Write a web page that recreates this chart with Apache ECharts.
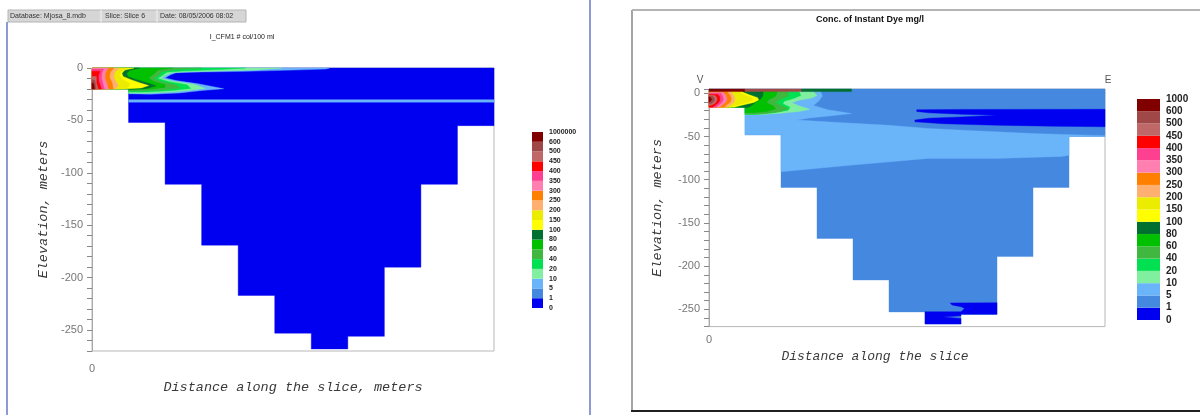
<!DOCTYPE html>
<html><head><meta charset="utf-8">
<script src="https://cdn.jsdelivr.net/npm/echarts@6/dist/echarts.min.js"></script>
<style>html,body{margin:0;padding:0;background:#fff}#c{width:1200px;height:415px}</style>
</head><body><div id="c"></div>
<script>
// ---- colour classes, bottom (lowest concentration) to top ----
const levelColors = ['#0000f0','#4488e0','#6ab4fa','#80f0a0','#00e050','#40b840','#00c000','#007030',
  '#ffff00','#ecec00','#ffb070','#ff8000','#ff80b0','#ff4090','#ff0000','#c06868','#a04848','#800000'];
const legendLabelsLeft = ['0','1','5','10','20','40','60','80','100','150','200','250','300','350','400','450','500','600','1000000'];
const legendLabelsRight = ['0','1','5','10','20','40','60','80','100','150','200','250','300','350','400','450','500','600','1000'];

// ---- bathymetry: bottom elevation (m) of the 11 slice columns ----
const bottomLeft  = [-20,-52,-111,-169,-217,-253,-268,-256,-190,-111,-55];
const bottomRight = [-16,-48,-109,-168,-216,-253,-267,-256,-189,-109,-50];

// ---- left panel: I_CFM1 contour regions [level, outline (column, elevation)] ----
const leftLayer  = [[1,-30.2],[11,-30.2],[11,-32.6],[1,-32.6]];
const leftL2  = [[0,0],[6.5,0],[6.4,-1],[5.5,-2],[4.2,-3.2],[3,-3.8],[2.3,-4.5],[2.15,-6.5],[2.0,-9.5],[2.3,-12],[2.9,-15],[3.6,-19.8],[3.0,-21.5],[2.4,-23.8],[1.6,-25],[1,-24.6],[1,-20],[0,-20]];
const leftL3  = [[0,0],[5.2,0],[4.5,-1.8],[3.5,-2.8],[2.6,-3.5],[2.2,-4.5],[2.05,-6.5],[1.9,-9.8],[2.2,-12.5],[2.8,-15.5],[3.1,-19.5],[2.7,-21.2],[2.2,-23],[1.5,-24.2],[1,-24],[1,-20],[0,-20]];
const leftL4  = [[0,0],[4.2,0],[3.5,-1.5],[2.5,-2.8],[2.05,-4],[1.95,-6.5],[1.8,-10],[2.1,-13],[2.6,-16],[2.7,-19.5],[2.2,-21.5],[1.5,-23],[1,-23],[1,-20],[0,-20]];
const leftL5  = [[0,0],[3,0],[2.3,-1.5],[1.9,-3.5],[1.85,-6.5],[1.7,-10],[1.9,-13],[2.3,-16],[2.4,-19],[1.9,-21],[1.3,-22],[1,-22],[1,-20],[0,-20]];
const leftL6  = [[0,0],[2.2,0],[1.8,-2],[1.7,-5.5],[1.55,-9.5],[1.7,-13],[2.0,-16],[2.0,-18.5],[1.6,-20],[1.0,-21],[1,-20],[0,-20]];
const leftL7  = [[0,0],[1.3,0],[1.05,-2],[0.95,-5],[0.98,-8],[1.2,-11],[1.5,-14],[1.75,-17],[1.5,-19.5],[1.0,-20.5],[1,-20],[0,-20]];
const leftL8  = [[0,0],[1.15,0],[0.9,-2],[0.82,-5],[0.85,-8],[1.05,-11],[1.3,-14],[1.55,-16.8],[1.35,-19],[1.0,-19.8],[0,-20]];
const leftL9  = [[0,0],[1.0,0],[0.8,-3],[0.75,-7],[0.85,-11],[1.05,-15],[1.0,-18],[0.9,-20],[0,-20]];
const leftL10 = [[0,0],[0.75,0],[0.62,-4],[0.6,-9],[0.68,-14],[0.72,-17],[0.62,-20],[0,-20]];
const leftL11 = [[0,0],[0.6,0],[0.5,-4],[0.48,-9],[0.55,-14],[0.58,-20],[0,-20]];
const leftL12 = [[0,0],[0.45,0],[0.37,-4],[0.35,-9],[0.4,-14],[0.45,-20],[0,-20]];
const leftL13 = [[0,-1],[0.32,-1],[0.27,-5],[0.26,-10],[0.3,-15],[0.34,-20],[0,-20]];
const leftL14 = [[0,-3],[0.22,-3],[0.18,-7],[0.18,-12],[0.22,-16],[0.26,-20],[0,-20]];
const leftL15 = [[0,-8],[0.12,-8],[0.12,-14],[0.17,-20],[0,-20]];
const leftL16 = [[0,-11],[0.08,-12],[0.11,-20],[0,-20]];
const leftL17 = [[0,-14],[0.05,-15],[0.07,-20],[0,-20]];

// ---- right panel: Instant Dye contour regions ----
const rightDarkUpper = [[5.77,-19],[7,-18.6],[11,-18.5],[11,-38.7],[9.5,-38],[8,-37],[6.5,-35.2],[5.72,-33],[5.72,-31],[6.1,-28.8],[7,-27.3],[8,-25.5],[7,-24.2],[6.1,-22.6],[5.77,-21]];
const rightDarkBottom = [[6.7,-242.6],[8,-242.4],[8,-255.8],[7,-255.8],[7,-257.5],[6.5,-259],[7,-260.5],[7,-267],[6,-267],[6,-252.8],[7,-252.8],[7.1,-249],[7.0,-247],[6.75,-245]];
const rightL2  = [[0,2],[3.1,2],[3.15,-3],[3.05,-9],[2.9,-14],[3.3,-19],[3.96,-23.5],[3.4,-26],[2.8,-28.5],[2.44,-31],[3.5,-33.5],[5,-37],[6.09,-40.7],[7.5,-43.5],[9,-46.5],[11,-49],[11,-50],[10,-50],[10,-71.6],[9.8,-73],[8,-75.3],[6.09,-75.3],[4,-83],[2,-90.7],[2,-48],[1,-48],[1,-16],[0,-16]];
const rightL3  = [[0,2],[2.9,2],[3.0,-2.5],[2.85,-5.5],[2.5,-8],[2.3,-11],[2.5,-14.5],[2.8,-18.5],[2.5,-21],[2,-23],[1.4,-24.8],[1,-24.8],[1,-16],[0,-16]];
const rightL4  = [[0,2],[2.5,2],[2.55,-2.5],[2.35,-6],[2.1,-9],[2.05,-12],[2.25,-16],[2.2,-19.5],[1.8,-22.5],[1.3,-24.5],[1,-24.5],[1,-16],[0,-16]];
const rightL5  = [[0,2],[2.2,2],[2.2,-3],[2.0,-7],[1.85,-10.5],[2.0,-14],[2.2,-17.5],[2.0,-21],[1.5,-23.8],[1,-24.2],[1,-16],[0,-16]];
const rightL6  = [[0,2],[1.9,2],[1.85,-3.5],[1.65,-7.5],[1.6,-11],[1.8,-15],[1.85,-18],[1.6,-21],[1.2,-22.5],[1,-22.5],[1,-16],[0,-16]];
const rightL7  = [[0,2],[1.5,2],[1.5,-2],[1.45,-6],[1.3,-10],[1.2,-13.5],[1.1,-16],[1,-17],[1,-16],[0,-16]];
const rightL8  = [[0,2],[0.9,2],[1.1,-1.5],[1.35,-5],[1.38,-7.6],[1.25,-10.5],[1.0,-13],[0.8,-15],[0.7,-16],[0,-16]];
const rightL9  = [[0,2],[0.8,2],[1.0,-2],[1.2,-5.5],[1.22,-7.6],[1.1,-10],[0.9,-12.5],[0.7,-14.5],[0.6,-16],[0,-16]];
const rightL10 = [[0,2],[0.6,2],[0.68,-2],[0.72,-6],[0.7,-10],[0.6,-13.5],[0.5,-16],[0,-16]];
const rightL11 = [[0,2],[0.5,2],[0.58,-2],[0.62,-6],[0.6,-10],[0.5,-13],[0.42,-16],[0,-16]];
const rightL12 = [[0,1],[0.4,1],[0.47,-2.5],[0.5,-6.5],[0.47,-10],[0.38,-13],[0.3,-16],[0,-16]];
const rightL13 = [[0,0],[0.33,0],[0.38,-3],[0.4,-7],[0.36,-10.5],[0.27,-13.5],[0.2,-16],[0,-16]];
const rightL14 = [[0,-1],[0.25,-1.5],[0.3,-4],[0.3,-8],[0.26,-11],[0.18,-13.5],[0.1,-16],[0,-16]];
const rightL15 = [[0,-2],[0.17,-2.5],[0.22,-5],[0.22,-8.5],[0.17,-11.5],[0.08,-13.5],[0,-14]];
const rightL16 = [[0,-3],[0.1,-3.5],[0.15,-6],[0.14,-9],[0.08,-11.5],[0,-12]];
const rightL17 = [[0,-4],[0.05,-5],[0.07,-7],[0.04,-9.5],[0,-10]];
const rightSurf17 = [[0,5],[1,5],[1,2],[0,2]];
const rightSurf16 = [[1,5],[2.57,5],[2.57,2],[1,2]];
const rightSurf7  = [[2.57,5],[3.96,5],[3.96,2],[2.57,2]];

function lakeOutline(bottom, top) {
  const pts = [[0, top], [bottom.length, top]];
  for (let i = bottom.length - 1; i >= 0; i--) { pts.push([i + 1, bottom[i]]); pts.push([i, bottom[i]]); }
  return pts;
}

const zonesLeft = [[0, lakeOutline(bottomLeft, 0)], [2, leftLayer], [2, leftL2], [3, leftL3], [4, leftL4], [5, leftL5], [6, leftL6], [7, leftL7], [8, leftL8], [9, leftL9], [10, leftL10], [11, leftL11], [12, leftL12], [13, leftL13], [14, leftL14], [15, leftL15], [16, leftL16], [17, leftL17]];
const zonesRight = [[1, lakeOutline(bottomRight, 5)], [0, rightDarkUpper], [0, rightDarkBottom], [2, rightL2], [3, rightL3], [4, rightL4], [5, rightL5], [6, rightL6], [7, rightL7], [8, rightL8], [9, rightL9], [10, rightL10], [11, rightL11], [12, rightL12], [13, rightL13], [14, rightL14], [15, rightL15], [16, rightL16], [17, rightL17], [17, rightSurf17], [16, rightSurf16], [7, rightSurf7]];

function zoneSeries(zones, idx) {
  return {
    type: 'custom', xAxisIndex: idx, yAxisIndex: idx, silent: true,
    data: zones.map(z => z[1][0]),
    renderItem: function (params, api) {
      const z = zones[params.dataIndex];
      const c = levelColors[z[0]];
      return { type: 'polygon', shape: { points: z[1].map(p => api.coord(p)) }, style: { fill: c, stroke: c, lineWidth: 0.4 } };
    }
  };
}
function legendSeries(idx) {
  return {
    type: 'custom', xAxisIndex: idx, yAxisIndex: idx, silent: true,
    data: levelColors.map((c, i) => [0, i]),
    renderItem: function (params, api) {
      const i = params.dataIndex;
      const a = api.coord([0, i + 1]), b = api.coord([1, i]);
      return { type: 'rect', shape: { x: a[0], y: a[1], width: b[0] - a[0], height: b[1] - a[1] }, style: { fill: levelColors[i] } };
    }
  };
}

const nameFont = { fontFamily: 'Liberation Mono', fontStyle: 'italic', color: '#3a3a3a' };
function mainX(g, name, gap, size, pad, lblMargin) {
  return { gridIndex: g, type: 'value', min: 0, max: 11, interval: 11,
    axisLine: { lineStyle: { color: '#a8a8a8' } }, axisTick: { show: false }, splitLine: { show: false },
    axisLabel: { formatter: v => v === 0 ? '0' : '', color: '#777', fontSize: 11, fontFamily: 'Liberation Sans', margin: lblMargin },
    name: name, nameLocation: 'middle', nameGap: gap,
    nameTextStyle: Object.assign({ fontSize: size, padding: pad }, nameFont) };
}
function mainY(g, max, gap, size) {
  return { gridIndex: g, type: 'value', min: -270, max: max, interval: 10,
    axisLine: { show: true, lineStyle: { color: '#a8a8a8' } },
    axisTick: { show: true, length: 5, lineStyle: { color: '#888' } }, splitLine: { show: false },
    axisLabel: { formatter: v => (v % 50 === 0 && v <= 0) ? String(v) : '', color: '#777', fontSize: 11, fontFamily: 'Liberation Sans', margin: 9 },
    name: 'Elevation, meters', nameLocation: 'middle', nameRotate: 90, nameGap: gap,
    nameTextStyle: Object.assign({ fontSize: size }, nameFont) };
}
function legendX(g) { return { gridIndex: g, type: 'value', min: 0, max: 1, show: false }; }
function legendY(g, labels, size) {
  return { gridIndex: g, type: 'value', min: 0, max: 18, interval: 1, position: 'right',
    axisLine: { show: false }, axisTick: { show: false }, splitLine: { show: false },
    axisLabel: { formatter: v => labels[v] || '', fontSize: size, fontWeight: 'bold', color: '#222', fontFamily: 'Liberation Sans', margin: 6 } };
}

const chart = echarts.init(document.getElementById('c'), null, { renderer: 'canvas' });
chart.setOption({
  backgroundColor: '#ffffff',
  animation: false,
  grid: [
    { left: 92, top: 68, width: 402, height: 283, show: true, borderColor: '#b8b8b8', borderWidth: 1 },
    { left: 709, top: 89, width: 396, height: 237.6, show: true, borderColor: '#b8b8b8', borderWidth: 1 },
    { left: 532, top: 132, width: 11, height: 176 },
    { left: 1137, top: 99, width: 23, height: 221 }
  ],
  xAxis: [
    mainX(0, 'Distance along the slice, meters', 29, 13.5, [0, 0, 0, 0], 12),
    mainX(1, 'Distance along the slice', 21, 13, [0, 64, 0, 0], 8),
    legendX(2), legendX(3)
  ],
  yAxis: [
    mainY(0, 0, 42, 13.5),
    mainY(1, 5, 45, 13.5),
    legendY(2, legendLabelsLeft, 7),
    legendY(3, legendLabelsRight, 10)
  ],
  series: [zoneSeries(zonesLeft, 0), zoneSeries(zonesRight, 1), legendSeries(2), legendSeries(3)],
  graphic: [
    { type: 'rect', shape: { x: 6, y: 22, width: 2, height: 393 }, style: { fill: '#8c9ad8' }, silent: true },
    { type: 'rect', shape: { x: 589, y: 0, width: 2, height: 415 }, style: { fill: '#8c9ad8' }, silent: true },
    { type: 'rect', shape: { x: 8, y: 10, width: 238, height: 12 }, style: { fill: '#d6d6d6', stroke: '#b4b4b4', lineWidth: 1 }, silent: true },
    { type: 'line', shape: { x1: 101, y1: 10, x2: 101, y2: 22 }, style: { stroke: '#f4f4f4', lineWidth: 1 }, silent: true },
    { type: 'line', shape: { x1: 157, y1: 10, x2: 157, y2: 22 }, style: { stroke: '#f4f4f4', lineWidth: 1 }, silent: true },
    { type: 'text', x: 10, y: 16, style: { text: 'Database: Mjosa_8.mdb', fontSize: 7, fill: '#333', fontFamily: 'Liberation Sans', verticalAlign: 'middle' }, silent: true },
    { type: 'text', x: 105, y: 16, style: { text: 'Slice: Slice 6', fontSize: 7, fill: '#333', fontFamily: 'Liberation Sans', verticalAlign: 'middle' }, silent: true },
    { type: 'text', x: 160, y: 16, style: { text: 'Date: 08/05/2006 08:02', fontSize: 7, fill: '#333', fontFamily: 'Liberation Sans', verticalAlign: 'middle' }, silent: true },
    { type: 'text', x: 242, y: 37, style: { text: 'I_CFM1 # col/100 ml', fontSize: 7, fill: '#222', fontFamily: 'Liberation Sans', align: 'center', verticalAlign: 'middle' }, silent: true },
    { type: 'line', shape: { x1: 632, y1: 10, x2: 632, y2: 411 }, style: { stroke: '#a4a4a4', lineWidth: 2 }, silent: true },
    { type: 'line', shape: { x1: 632, y1: 10, x2: 1200, y2: 10 }, style: { stroke: '#b4b4b4', lineWidth: 2 }, silent: true },
    { type: 'line', shape: { x1: 631, y1: 411, x2: 1200, y2: 411 }, style: { stroke: '#202020', lineWidth: 2 }, silent: true },
    { type: 'text', x: 870, y: 20, style: { text: 'Conc. of Instant Dye mg/l', fontSize: 9, fontWeight: 'bold', fill: '#111', fontFamily: 'Liberation Sans', align: 'center', verticalAlign: 'middle' }, silent: true },
    { type: 'text', x: 700, y: 80, style: { text: 'V', fontSize: 10, fill: '#555', fontFamily: 'Liberation Sans', align: 'center', verticalAlign: 'middle' }, silent: true },
    { type: 'text', x: 1108, y: 80, style: { text: 'E', fontSize: 10, fill: '#555', fontFamily: 'Liberation Sans', align: 'center', verticalAlign: 'middle' }, silent: true }
  ]
});
</script></body></html>
